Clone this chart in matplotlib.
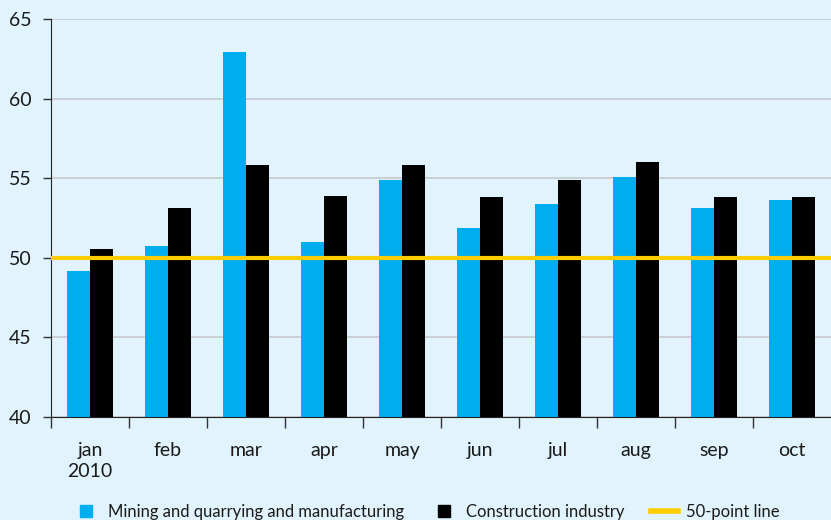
import numpy as np
import matplotlib.pyplot as plt
from matplotlib.lines import Line2D
from matplotlib.ticker import FixedLocator

months = ['jan\n2010', 'feb', 'mar', 'apr', 'may', 'jun', 'jul', 'aug', 'sep', 'oct']
mining = [49.2, 50.75, 62.9, 51.0, 54.9, 51.9, 53.4, 55.1, 53.1, 53.6]
construction = [50.55, 53.1, 55.8, 53.9, 55.8, 53.8, 54.9, 56.0, 53.8, 53.8]
ref_level = 50

bg = '#E1F3FD'
blue = '#00AEEF'
yellow = '#FFCC00'

plt.rcParams['font.family'] = ['Lato', 'DejaVu Sans']

fig = plt.figure(figsize=(8.31, 5.2), dpi=100, facecolor=bg)
ax = fig.add_axes([51 / 831, 103 / 520, 1 - 51 / 831, (417 - 19) / 520])
ax.set_facecolor(bg)

x = np.arange(len(months))
w = 0.29
ax.bar(x - w / 2, mining, w, color=blue, zorder=2)
ax.bar(x + w / 2, construction, w, color='black', zorder=2)
ax.axhline(ref_level, color=yellow, lw=3, zorder=3)

ax.set_ylim(40, 65)
ax.set_xlim(-0.5, len(months) - 0.5)
ax.set_yticks([40, 45, 50, 55, 60, 65])
ax.yaxis.grid(True, color='#C5C8CA', lw=1.2, zorder=0)
ax.set_axisbelow(True)

ax.set_xticks(x)
ax.set_xticklabels(months, fontsize=14, color='#1a1a1a', linespacing=1.3)
ax.xaxis.set_minor_locator(FixedLocator(np.arange(-0.5, len(months) - 1, 1.0)))
ax.tick_params(axis='x', which='major', length=0, pad=18)
ax.tick_params(axis='x', which='minor', length=8, width=1, color='#333333', direction='out')
ax.tick_params(axis='y', length=6, width=1, color='#333333', labelsize=14, labelcolor='#1a1a1a', pad=8)

for s in ['top', 'right']:
    ax.spines[s].set_visible(False)
ax.spines['left'].set_color('#222222')
ax.spines['bottom'].set_color('#222222')

handles = [
    Line2D([], [], marker='s', color=blue, ls='none', markersize=9),
    Line2D([], [], marker='s', color='black', ls='none', markersize=9),
    Line2D([], [], color=yellow, lw=4),
]
labels = ['Mining and quarrying and manufacturing', 'Construction industry', '50-point line']
fig.legend(handles, labels, loc='lower center', bbox_to_anchor=(0.513, -0.028), ncol=3,
           frameon=False, fontsize=12, handlelength=1.6, handletextpad=0.5,
           columnspacing=1.6, labelcolor='#1a1a1a')

fig.savefig('out.png', dpi=100, facecolor=bg)
